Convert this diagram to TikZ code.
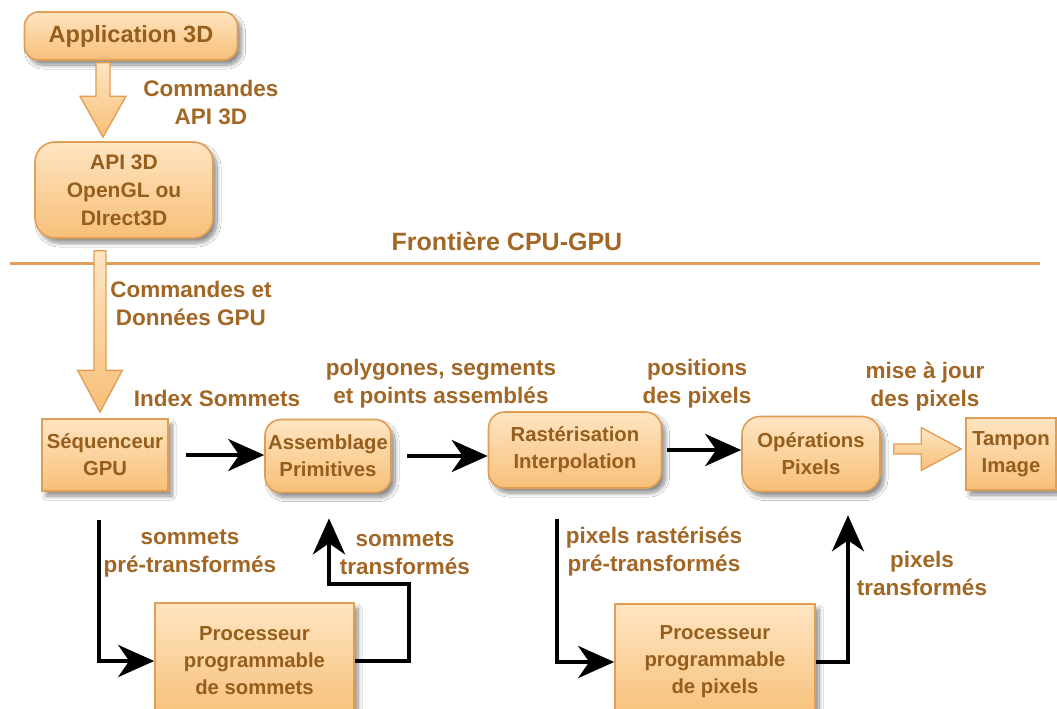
\documentclass[tikz,border=0pt]{standalone}
\usepackage{fontspec}
\setmainfont{Liberation Sans}
\usetikzlibrary{calc,arrows.meta,shadows.blur}

\definecolor{boxtop}{HTML}{FFE5C2}
\definecolor{boxbot}{HTML}{F7BF78}
\definecolor{boxedge}{HTML}{E09E55}
\definecolor{boxtext}{HTML}{955E1C}
\definecolor{labtext}{HTML}{A26725}
\definecolor{border}{HTML}{DFA05B}

\tikzset{
  stage/.style={draw=boxedge, line width=1.6pt, top color=boxtop, bottom color=boxbot,
    text=boxtext, align=center, inner sep=2pt,
    font=\bfseries\fontsize{20.3}{27}\selectfont,
    blur shadow={shadow xshift=4pt, shadow yshift=-5pt, shadow blur radius=4pt,
      shadow blur steps=10, shadow opacity=45}},
  roundstage/.style={stage, rounded corners=16pt},
  flowlabel/.style={text=labtext, align=center, font=\bfseries\fontsize{22.5}{28}\selectfont},
  flow/.style={draw=black, line width=4.5pt,
    -{Stealth[length=36pt, width=32pt, inset=11pt]}},
  blockarrow/.style={draw=boxedge, line width=1.3pt, top color=boxtop, bottom color=boxbot,
    line join=miter}
}

\begin{document}
\begin{tikzpicture}[x=1pt, y=-1pt]
\useasboundingbox[fill=white] (0,0) rectangle (1057,709);

% CPU side
\node[roundstage, minimum width=213pt, minimum height=48pt, rounded corners=14pt,
  font=\bfseries\fontsize{23.5}{27}\selectfont] (app) at (131,36) {Application 3D};
\node[roundstage, minimum width=178pt, minimum height=96pt, rounded corners=20pt,
  font=\bfseries\fontsize{21}{28}\selectfont] (api) at (124,190) {API 3D\\OpenGL ou\\DIrect3D};

% CPU / GPU boundary
\coordinate (bl) at (10,263);
\coordinate (br) at (1040,263);
\draw[border, line width=3pt] (bl) -- (br);
\node[flowlabel, font=\bfseries\fontsize{25}{28}\selectfont] (fr) at (507,241) {Frontière CPU-GPU};

% GPU pipeline
\node[stage, minimum width=126pt, minimum height=72pt] (seq) at (105,455) {Séquenceur\\GPU};
\node[roundstage, minimum width=126pt, minimum height=73pt] (asm) at (328,456) {Assemblage\\Primitives};
\node[roundstage, minimum width=173pt, minimum height=76pt] (ras) at (575,450) {Rastérisation\\Interpolation};
\node[roundstage, minimum width=138pt, minimum height=75pt, rounded corners=18pt] (ops) at (811,454) {Opérations\\Pixels};
\node[stage, minimum width=90pt, minimum height=72pt] (tam) at (1011,454) {Tampon\\Image};
\node[stage, minimum width=199pt, minimum height=116pt] (ps) at (254.5,661) {Processeur\\programmable\\de sommets};
\node[stage, minimum width=200pt, minimum height=116pt] (pp) at (715,662) {Processeur\\programmable\\de pixels};

% hollow block arrows
\coordinate (a1s) at ($(app.south)+(-28,2)$);
\coordinate (a1t) at ($(a1s |- api.north)+(0,-4)$);
\path[blockarrow] let \p1=(a1s), \p2=(a1t) in
  (\x1-7pt,\y1) -- (\x1+7pt,\y1) -- (\x1+7pt,\y2+41pt) -- (\x1+23pt,\y2+41pt)
  -- (\x2,\y2) -- (\x1-23pt,\y2+41pt) -- (\x1-7pt,\y2+41pt) -- cycle;

\coordinate (a2s) at ($(api.south)+(-24,12)$);
\coordinate (a2t) at ($(a2s |- seq.north)+(0,-6)$);
\path[blockarrow] let \p1=(a2s), \p2=(a2t) in
  (\x1-6pt,\y1) -- (\x1+6pt,\y1) -- (\x1+6pt,\y2+42pt) -- (\x1+22.5pt,\y2+42pt)
  -- (\x2,\y2) -- (\x1-22.5pt,\y2+42pt) -- (\x1-6pt,\y2+42pt) -- cycle;

\coordinate (a3s) at ($(ops.east)+(13,-5)$);
\coordinate (a3t) at ($(tam.west |- a3s)+(-4,0)$);
\path[blockarrow] let \p1=(a3s), \p2=(a3t) in
  (\x1,\y1+5pt) -- (\x1,\y1-5pt) -- (\x2-40pt,\y1-5pt) -- (\x2-40pt,\y1-21.5pt)
  -- (\x2,\y2) -- (\x2-40pt,\y1+21.5pt) -- (\x2-40pt,\y1+5pt) -- cycle;

% data flow between stages
\draw[flow] ($(seq.east)+(17,0)$) -- (asm.west |- seq.east);
\draw[flow] ($(asm.east)+(15,0)$) -- (ras.west |- asm.east);
\draw[flow] ($(ras.east)+(5,0)$) -- (ops.west |- ras.east);
\draw[flow] ($(seq.south)+(-6,28)$) |- (ps.west);
\draw[flow] (ps.east) -- ++(54,0) -- ++(0,-77) -| ($(asm.south)+(1,25)$);
\draw[flow] ($(ras.south)+(-18,30)$) |- (pp.west);
\draw[flow] (pp.east) -| ($(ops.south)+(37,23)$);

% flow labels
\node[flowlabel] (l1) at (211,102) {Commandes\\API 3D};
\node[flowlabel] (l2) at (191,303) {Commandes et\\Données GPU};
\node[flowlabel] (l3) at (217,398) {Index Sommets};
\node[flowlabel] (l4) at (441,384) {polygones, segments\\et points assemblés};
\node[flowlabel] (l5) at (697,384) {positions\\des pixels};
\node[flowlabel] (l6) at (925,387) {mise à jour\\des pixels};
\node[flowlabel] (l7) at (190,553) {sommets\\pré-transformés};
\node[flowlabel] (l8) at (405,553) {sommets\\transformés};
\node[flowlabel] (l9) at (654,552) {pixels rastérisés\\pré-transformés};
\node[flowlabel] (l10) at (922,573) {pixels\\transformés};
\end{tikzpicture}
\end{document}
